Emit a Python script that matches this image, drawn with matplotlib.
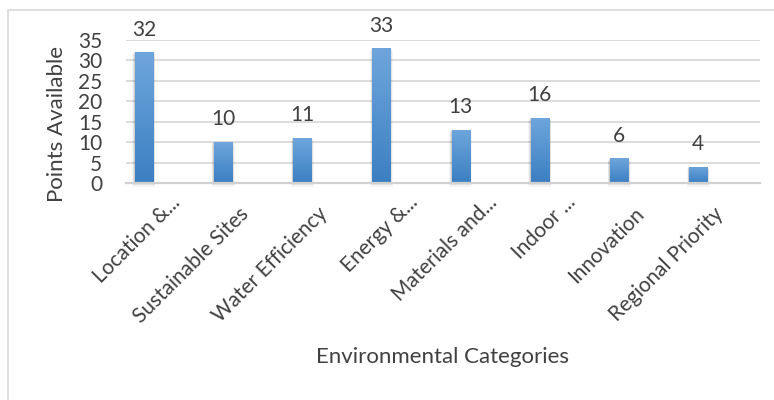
import numpy as np
import matplotlib
matplotlib.use("Agg")
import matplotlib.pyplot as plt
from matplotlib.patches import Rectangle
from matplotlib.transforms import ScaledTranslation
from matplotlib.colors import LinearSegmentedColormap

categories = ["Location &...", "Sustainable Sites", "Water Efficiency", "Energy &...",
              "Materials and...", "Indoor ...", "Innovation", "Regional Priority"]
points = [32, 10, 11, 33, 13, 16, 6, 4]
yticks = [0, 5, 10, 15, 20, 25, 30, 35]

text_color = "#404040"
grid_color = "#d9d9d9"
plt.rcParams["font.family"] = ["Lato", "DejaVu Sans"]

fig = plt.figure(figsize=(7.74, 4.0), dpi=100)
W, H = 774, 400

# outer chart frame
fig.patches.append(Rectangle((8 / W, -0.1), 1.1, (390 / H) + 0.1, transform=fig.transFigure,
                             fill=False, edgecolor=grid_color, linewidth=1.2))

ax = fig.add_axes([126 / W, 1 - 183 / H, (760 - 126) / W, (183 - 40) / H])
xmin, xmax = -0.227, 7.78

for s in ["top", "right", "left"]:
    ax.spines[s].set_visible(False)
ax.spines["bottom"].set_color("#d0d0d0")
ax.spines["bottom"].set_linewidth(1.6)
ax.set_axisbelow(True)
ax.yaxis.grid(True, color=grid_color, linewidth=1.3)
ax.set_yticks(yticks)
ax.tick_params(axis="y", length=0, pad=17, labelsize=15, labelcolor=text_color)
ax.tick_params(axis="x", length=0, pad=14, labelsize=15, labelcolor=text_color)

x = np.arange(len(categories))
bar_w = 0.23
grad = LinearSegmentedColormap.from_list("bar", ["#3b7fc2", "#6ea6dc"])
gradient = np.linspace(0, 1, 256).reshape(-1, 1)

for xi, v in zip(x, points):
    # soft shadow under each bar
    for k, a in enumerate([0.10, 0.07, 0.04]):
        sh = Rectangle((xi - bar_w / 2 - 0.01 * (k + 1), -0.3 - 0.3 * k), bar_w + 0.02 * (k + 1),
                       v + 0.3, facecolor="#000000", alpha=a, edgecolor="none", zorder=1.5,
                       clip_on=False)
        ax.add_patch(sh)
    rect = Rectangle((xi - bar_w / 2, 0), bar_w, v, facecolor="#5b9bd5",
                     edgecolor="none", zorder=2)
    ax.add_patch(rect)
    im = ax.imshow(gradient, cmap=grad, aspect="auto", origin="lower",
                   extent=(xi - bar_w / 2, xi + bar_w / 2, 0, v), zorder=2.1)
    im.set_clip_path(rect)
    ax.annotate(str(v), (xi, v), xytext=(0, 12), textcoords="offset points",
                ha="center", va="baseline", fontsize=15, color=text_color,
                annotation_clip=False)

ax.set_xlim(xmin, xmax)
ax.set_ylim(0, 35)
ax.set_xticks(x)
ax.set_xticklabels(categories, rotation=45, ha="right", va="center",
                   rotation_mode="anchor")
for lbl in ax.get_xticklabels():
    # truncated labels keep the width of the full text box, so they sit further out
    if lbl.get_text().endswith("..."):
        dx, dy = 33, 3
    else:
        dx, dy = 22, -8
    lbl.set_transform(lbl.get_transform() + ScaledTranslation(dx / 100, dy / 100, fig.dpi_scale_trans))

fig.text(57 / W, 1 - 124 / H, "Points Available", rotation=90, ha="center", va="center",
         fontsize=16, color=text_color)
fig.text(443 / W, 1 - 357 / H, "Environmental Categories", ha="center", va="center",
         fontsize=16, color=text_color)

fig.savefig("out.png", dpi=100)
